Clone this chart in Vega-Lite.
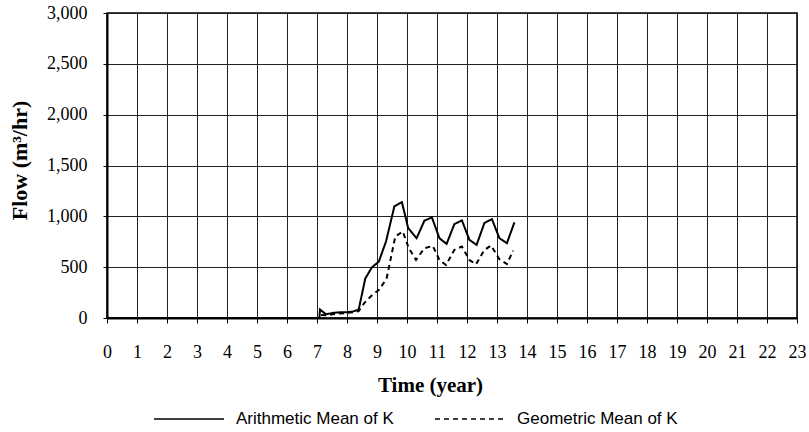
{
  "$schema": "https://vega.github.io/schema/vega-lite/v6.json",
  "width": 690,
  "height": 305,
  "autosize": {"type": "none"},
  "padding": {"left": 107, "top": 13, "right": 12, "bottom": 114},
  "background": "white",
  "config": {
    "view": {"stroke": "#000", "strokeWidth": 1.5},
    "axis": {
      "labelFont": "Liberation Serif",
      "labelFontSize": 18,
      "labelColor": "#000",
      "titleFont": "Liberation Serif",
      "titleFontWeight": "bold",
      "titleColor": "#000",
      "domainColor": "#000",
      "domainWidth": 2,
      "tickColor": "#000",
      "tickWidth": 1,
      "gridColor": "#222",
      "gridWidth": 1,
      "gridOpacity": 1
    }
  },
  "data": {
    "values": [
      {"year": 0, "flow": 0, "series": "Arithmetic Mean of K"},
      {"year": 7.08, "flow": 0, "series": "Arithmetic Mean of K"},
      {"year": 7.1, "flow": 83, "series": "Arithmetic Mean of K"},
      {"year": 7.3, "flow": 36, "series": "Arithmetic Mean of K"},
      {"year": 7.52, "flow": 50, "series": "Arithmetic Mean of K"},
      {"year": 7.74, "flow": 56, "series": "Arithmetic Mean of K"},
      {"year": 7.97, "flow": 56, "series": "Arithmetic Mean of K"},
      {"year": 8.19, "flow": 63, "series": "Arithmetic Mean of K"},
      {"year": 8.39, "flow": 83, "series": "Arithmetic Mean of K"},
      {"year": 8.61, "flow": 389, "series": "Arithmetic Mean of K"},
      {"year": 8.83, "flow": 498, "series": "Arithmetic Mean of K"},
      {"year": 9.06, "flow": 554, "series": "Arithmetic Mean of K"},
      {"year": 9.3, "flow": 752, "series": "Arithmetic Mean of K"},
      {"year": 9.58, "flow": 1099, "series": "Arithmetic Mean of K"},
      {"year": 9.83, "flow": 1139, "series": "Arithmetic Mean of K"},
      {"year": 10.04, "flow": 884, "series": "Arithmetic Mean of K"},
      {"year": 10.32, "flow": 785, "series": "Arithmetic Mean of K"},
      {"year": 10.58, "flow": 957, "series": "Arithmetic Mean of K"},
      {"year": 10.83, "flow": 990, "series": "Arithmetic Mean of K"},
      {"year": 11.08, "flow": 785, "series": "Arithmetic Mean of K"},
      {"year": 11.32, "flow": 729, "series": "Arithmetic Mean of K"},
      {"year": 11.58, "flow": 924, "series": "Arithmetic Mean of K"},
      {"year": 11.83, "flow": 960, "series": "Arithmetic Mean of K"},
      {"year": 12.08, "flow": 769, "series": "Arithmetic Mean of K"},
      {"year": 12.32, "flow": 719, "series": "Arithmetic Mean of K"},
      {"year": 12.58, "flow": 934, "series": "Arithmetic Mean of K"},
      {"year": 12.83, "flow": 973, "series": "Arithmetic Mean of K"},
      {"year": 13.08, "flow": 785, "series": "Arithmetic Mean of K"},
      {"year": 13.33, "flow": 736, "series": "Arithmetic Mean of K"},
      {"year": 13.58, "flow": 940, "series": "Arithmetic Mean of K"},
      {"year": 0, "flow": 0, "series": "Geometric Mean of K"},
      {"year": 7.08, "flow": 0, "series": "Geometric Mean of K"},
      {"year": 7.13, "flow": 30, "series": "Geometric Mean of K"},
      {"year": 7.3, "flow": 26, "series": "Geometric Mean of K"},
      {"year": 7.52, "flow": 36, "series": "Geometric Mean of K"},
      {"year": 7.74, "flow": 43, "series": "Geometric Mean of K"},
      {"year": 7.97, "flow": 50, "series": "Geometric Mean of K"},
      {"year": 8.19, "flow": 56, "series": "Geometric Mean of K"},
      {"year": 8.39, "flow": 69, "series": "Geometric Mean of K"},
      {"year": 8.58, "flow": 149, "series": "Geometric Mean of K"},
      {"year": 8.83, "flow": 224, "series": "Geometric Mean of K"},
      {"year": 9.08, "flow": 280, "series": "Geometric Mean of K"},
      {"year": 9.32, "flow": 389, "series": "Geometric Mean of K"},
      {"year": 9.61, "flow": 801, "series": "Geometric Mean of K"},
      {"year": 9.86, "flow": 851, "series": "Geometric Mean of K"},
      {"year": 10.06, "flow": 686, "series": "Geometric Mean of K"},
      {"year": 10.3, "flow": 571, "series": "Geometric Mean of K"},
      {"year": 10.58, "flow": 686, "series": "Geometric Mean of K"},
      {"year": 10.86, "flow": 709, "series": "Geometric Mean of K"},
      {"year": 11.08, "flow": 571, "series": "Geometric Mean of K"},
      {"year": 11.3, "flow": 521, "series": "Geometric Mean of K"},
      {"year": 11.58, "flow": 670, "series": "Geometric Mean of K"},
      {"year": 11.83, "flow": 703, "series": "Geometric Mean of K"},
      {"year": 12.08, "flow": 571, "series": "Geometric Mean of K"},
      {"year": 12.3, "flow": 528, "series": "Geometric Mean of K"},
      {"year": 12.58, "flow": 670, "series": "Geometric Mean of K"},
      {"year": 12.8, "flow": 713, "series": "Geometric Mean of K"},
      {"year": 13.08, "flow": 578, "series": "Geometric Mean of K"},
      {"year": 13.33, "flow": 531, "series": "Geometric Mean of K"},
      {"year": 13.54, "flow": 663, "series": "Geometric Mean of K"}
    ]
  },
  "mark": {"type": "line", "color": "#000", "strokeWidth": 2},
  "encoding": {
    "x": {
      "field": "year",
      "type": "quantitative",
      "scale": {"domain": [0, 23], "nice": false, "zero": false},
      "axis": {
        "title": "Time (year)",
        "titleFontSize": 21,
        "titleX": 323,
        "titleY": 73,
        "titleAnchor": null,
        "titleAlign": "center",
        "titleBaseline": "alphabetic",
        "values": [0,1,2,3,4,5,6,7,8,9,10,11,12,13,14,15,16,17,18,19,20,21,22,23],
        "format": "d",
        "tickSize": 5,
        "labelPadding": 20,
        "labelFlush": false,
        "grid": true
      }
    },
    "y": {
      "field": "flow",
      "type": "quantitative",
      "scale": {"domain": [0, 3000], "nice": false},
      "axis": {
        "title": "Flow (m³/hr)",
        "titleFontSize": 22,
        "titleX": -88,
        "titleY": 147,
        "titleAngle": -90,
        "titleAlign": "center",
        "titleBaseline": "middle",
        "values": [0, 500, 1000, 1500, 2000, 2500, 3000],
        "format": ",d",
        "tickSize": 4,
        "labelPadding": 16,
        "labelFlush": false,
        "grid": true
      }
    },
    "strokeDash": {
      "field": "series",
      "type": "nominal",
      "scale": {
        "domain": ["Arithmetic Mean of K", "Geometric Mean of K"],
        "range": [[1, 0], [5, 4]]
      },
      "legend": {
        "title": null,
        "orient": "none",
        "direction": "horizontal",
        "legendX": 46,
        "legendY": 370,
        "symbolType": "stroke",
        "symbolSize": 4900,
        "symbolStrokeWidth": 1.5,
        "symbolStrokeColor": "#000",
        "labelFont": "Liberation Sans",
        "labelFontSize": 17,
        "labelColor": "#000",
        "labelOffset": 11,
        "columnPadding": 38,
        "labelLimit": 300
      }
    }
  }
}
